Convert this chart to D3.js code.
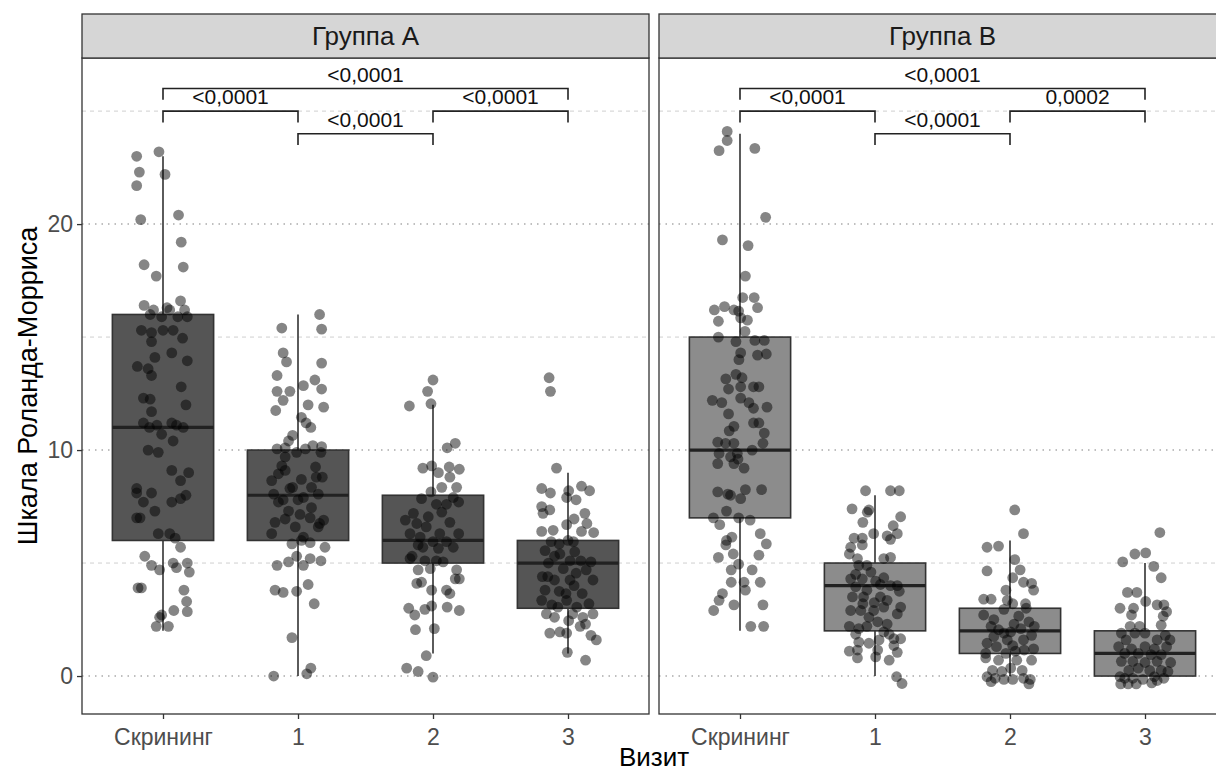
<!DOCTYPE html>
<html>
<head>
<meta charset="utf-8">
<script src="https://cdn.jsdelivr.net/npm/d3@7"></script>
<style>
body { margin: 0; background: #fff; }
svg { display: block; font-family: "Liberation Sans", Arial, sans-serif; }
</style>
</head>
<body>
<svg id="chart" width="1216" height="774"></svg>
<script>
// categories and labels
var visits = ["Скрининг", "1", "2", "3"];
var groups = ["Группа A", "Группа B"];
var yTicks = [0, 10, 20];
var yMinor = [5, 15, 25];

// box stats per visit: [lower whisker, q1, median, q3, upper whisker]
var statsA = [[2, 6, 11, 16, 23], [0, 6, 8, 10, 16], [1, 5, 6, 8, 12], [1, 3, 5, 6, 9]];
var statsB = [[2, 7, 10, 15, 24], [0, 2, 4, 5, 8], [0, 1, 2, 3, 6], [0, 0, 1, 2, 5]];

// comparisons: [from, to, bracket level, p label]
var bracketsA = [["Скрининг", "3", 26, "<0,0001"], ["Скрининг", "1", 25, "<0,0001"], ["2", "3", 25, "<0,0001"], ["1", "2", 24, "<0,0001"]];
var bracketsB = [["Скрининг", "3", 26, "<0,0001"], ["Скрининг", "1", 25, "<0,0001"], ["2", "3", 25, "0,0002"], ["1", "2", 24, "<0,0001"]];

// jittered points: [horizontal jitter (share of step), score]
var ptsAScr = [[-0.195,23.0],[-0.03,23.2],[-0.175,22.3],[0.015,22.2],[-0.195,21.7],[-0.165,20.2],[0.115,20.4],[0.135,19.2],[-0.14,18.2],[0.15,18.1],[-0.05,17.7],[0.13,16.6],[-0.14,16.4],[-0.07,16.2],[0.03,16.3],[0.05,16.2],[0.16,16.2],[-0.095,16.0],[-0.01,15.9],[0.11,15.9],[0.18,15.9],[-0.16,15.3],[-0.085,15.2],[0.0,15.3],[0.075,15.3],[0.145,14.95],[-0.085,14.8],[0.065,14.3],[0.18,13.95],[-0.06,14.1],[-0.19,13.7],[-0.11,13.6],[-0.085,13.3],[0.135,12.8],[-0.145,12.3],[-0.095,12.25],[0.17,12.0],[-0.085,11.7],[-0.145,11.2],[-0.045,11.1],[0.065,11.2],[0.1,11.1],[0.15,11.0],[-0.1,11.0],[-0.01,10.7],[0.075,10.4],[-0.11,10.0],[-0.035,9.9],[0.065,9.1],[0.13,8.65],[0.19,9.0],[-0.085,8.1],[-0.195,8.3],[-0.195,8.1],[-0.145,7.7],[-0.06,7.3],[-0.195,7.0],[-0.17,7.0],[0.065,7.7],[0.13,7.85],[0.17,8.0],[-0.035,6.3],[0.05,6.3],[0.09,6.1],[0.13,5.7],[-0.135,5.3],[-0.085,4.9],[-0.025,4.7],[0.075,5.0],[0.1,4.8],[0.18,5.0],[0.195,4.6],[-0.185,3.9],[-0.16,3.9],[0.155,3.8],[0.175,3.3],[0.18,2.85],[0.08,2.9],[-0.025,2.6],[-0.01,2.7],[-0.05,2.2],[0.04,2.2]];
var ptsA1 = [[0.16,16.0],[-0.12,15.4],[0.175,15.35],[-0.11,14.3],[-0.085,13.9],[0.175,13.85],[-0.155,13.3],[-0.155,12.6],[-0.06,12.6],[0.04,12.85],[0.125,13.1],[0.175,12.7],[-0.11,12.2],[-0.165,11.75],[0.075,12.0],[0.19,11.9],[0.025,11.45],[0.06,11.2],[0.095,11.0],[-0.04,10.65],[-0.07,10.4],[-0.155,10.05],[-0.095,10.1],[-0.01,9.9],[0.11,10.2],[0.175,10.15],[0.17,9.9],[0.055,10.05],[-0.12,9.3],[-0.095,9.1],[-0.195,8.65],[0.025,8.7],[0.135,8.8],[0.18,8.8],[-0.06,8.3],[-0.18,8.05],[0.0,7.8],[0.15,8.05],[0.1,8.35],[-0.145,7.7],[-0.07,7.3],[0.015,7.15],[0.09,7.0],[0.19,6.9],[-0.095,6.95],[-0.17,6.8],[0.15,6.6],[-0.195,6.3],[0.04,6.15],[-0.045,5.85],[0.09,5.9],[0.2,5.7],[-0.155,4.9],[-0.07,5.05],[-0.01,5.3],[0.04,4.9],[0.09,5.2],[0.17,5.1],[-0.17,3.8],[-0.11,3.7],[-0.01,3.75],[0.075,4.05],[0.12,3.2],[-0.045,1.7],[-0.18,0.0],[0.065,0.1],[0.095,0.35],[-0.095,9.7],[-0.145,8.95],[0.13,9.25],[-0.04,8.35],[0.04,7.9],[-0.11,7.8],[0.1,7.45],[-0.02,6.6],[0.16,6.75],[0.025,6.0]];
var ptsA2 = [[0.0,13.1],[-0.04,12.6],[-0.175,11.95],[-0.015,12.05],[0.105,10.1],[0.165,10.3],[-0.075,9.2],[-0.01,9.3],[0.04,9.0],[0.12,9.25],[0.195,9.15],[0.125,8.8],[0.065,8.35],[0.175,8.35],[-0.015,8.15],[-0.085,7.85],[0.15,7.9],[0.025,7.6],[0.19,7.7],[0.065,7.25],[-0.205,6.9],[-0.12,6.75],[-0.05,6.6],[0.125,6.8],[-0.17,6.3],[-0.095,6.15],[0.05,6.3],[0.19,6.3],[0.0,5.95],[0.1,5.95],[-0.11,5.8],[0.04,5.65],[-0.17,5.2],[-0.06,5.1],[0.075,5.05],[-0.11,4.7],[-0.02,4.75],[0.175,4.7],[0.165,4.3],[0.195,4.3],[-0.12,4.1],[-0.085,4.15],[-0.01,3.8],[0.1,3.8],[0.125,3.65],[-0.18,3.0],[-0.135,2.7],[-0.06,2.95],[-0.01,3.1],[0.105,3.05],[0.195,2.9],[-0.13,2.05],[0.01,2.1],[-0.05,0.9],[-0.195,0.35],[-0.11,0.2],[0.0,-0.05],[-0.145,7.2],[-0.035,7.05],[0.1,7.6],[-0.075,5.7],[0.15,5.7],[-0.155,5.3],[0.025,5.1]];
var ptsA3 = [[-0.14,13.2],[-0.13,12.6],[-0.085,9.2],[-0.195,8.3],[-0.13,8.1],[0.005,8.2],[0.1,8.4],[0.16,8.2],[-0.195,7.5],[-0.135,7.35],[-0.01,7.9],[0.06,7.8],[-0.185,7.2],[0.125,7.2],[0.045,6.95],[0.14,6.75],[-0.01,6.7],[-0.195,6.4],[0.1,6.4],[0.19,6.35],[-0.125,5.95],[-0.065,5.85],[0.04,5.95],[-0.17,5.55],[-0.1,5.3],[0.015,5.1],[0.095,5.1],[0.17,5.05],[-0.145,5.0],[-0.035,4.75],[0.135,4.7],[-0.19,4.4],[-0.1,4.25],[0.015,4.25],[0.185,4.25],[-0.17,3.8],[-0.065,3.75],[0.045,4.0],[0.105,3.65],[-0.195,3.35],[-0.12,3.15],[-0.01,3.35],[0.155,3.2],[-0.16,2.75],[-0.1,2.6],[0.035,2.75],[0.11,2.6],[0.185,2.75],[-0.135,1.9],[-0.06,1.95],[-0.01,1.9],[0.09,2.2],[0.17,1.8],[0.21,1.6],[-0.005,1.05],[0.13,0.7],[-0.11,6.45],[0.0,6.0],[0.05,5.5],[-0.06,5.4],[-0.15,4.4],[0.06,4.55],[-0.015,3.65],[-0.075,3.05],[0.065,3.05],[0.005,2.45],[0.13,2.3]];
var ptsBScr = [[-0.095,24.1],[-0.095,23.7],[-0.155,23.25],[0.11,23.35],[0.19,20.3],[-0.13,19.3],[0.06,19.05],[0.04,17.7],[0.02,16.75],[0.105,16.75],[-0.115,16.35],[0.13,16.3],[-0.19,16.2],[-0.045,16.2],[-0.01,16.15],[-0.16,15.7],[0.055,15.75],[0.005,15.85],[0.037,15.25],[-0.16,15.0],[-0.03,14.8],[0.11,14.85],[0.18,14.85],[0.005,14.3],[-0.008,14.0],[0.13,14.2],[0.195,14.25],[-0.03,13.35],[-0.105,13.15],[0.015,13.2],[0.14,12.8],[-0.085,12.7],[0.005,12.8],[0.1,12.8],[-0.205,12.2],[-0.135,12.1],[0.005,12.3],[0.066,12.1],[0.2,11.9],[0.1,11.85],[-0.085,11.6],[0.1,11.2],[0.14,11.2],[-0.045,11.05],[-0.08,10.85],[0.18,10.75],[0.17,10.3],[-0.165,10.35],[-0.107,10.3],[-0.045,10.3],[-0.155,9.85],[-0.07,9.7],[-0.015,9.6],[0.09,10.0],[-0.165,9.4],[-0.045,9.4],[0.03,9.2],[-0.02,9.85],[-0.165,8.15],[-0.09,8.05],[-0.07,8.0],[0.04,8.25],[0.16,8.25],[0.005,7.85],[-0.1,7.3],[-0.197,7.0],[-0.01,7.0],[0.075,6.9],[-0.15,6.7],[-0.06,6.15],[-0.1,6.0],[0.15,6.3],[0.195,5.85],[-0.105,5.8],[-0.05,5.4],[-0.16,5.25],[0.14,5.35],[-0.01,4.95],[-0.065,4.7],[0.09,4.7],[-0.065,4.15],[0.15,4.15],[0.03,4.15],[0.04,3.8],[-0.13,3.65],[-0.155,3.35],[-0.045,3.15],[-0.195,2.9],[0.17,3.15],[0.08,2.2],[0.175,2.2]];
var ptsB1 = [[-0.07,8.2],[0.115,8.2],[0.18,8.2],[-0.17,7.4],[-0.057,7.25],[-0.045,7.35],[0.19,7.05],[-0.09,6.8],[0.135,6.65],[0.165,6.3],[-0.155,6.1],[-0.094,6.1],[-0.01,6.3],[0.09,6.2],[0.115,6.05],[-0.18,5.7],[-0.094,5.8],[-0.19,5.4],[-0.13,5.2],[0.065,5.2],[0.115,5.25],[-0.12,4.9],[-0.06,4.9],[-0.18,4.3],[-0.094,4.3],[0.005,4.2],[0.065,4.35],[0.165,4.0],[-0.143,3.95],[-0.06,3.8],[0.115,4.0],[-0.167,3.5],[-0.085,3.5],[0.04,3.5],[0.18,3.75],[-0.005,3.25],[-0.18,2.9],[-0.105,2.9],[0.065,3.05],[0.19,3.05],[0.165,2.75],[-0.045,2.6],[0.02,2.4],[-0.19,2.2],[-0.12,2.1],[0.09,2.3],[-0.143,1.85],[0.105,1.85],[-0.12,1.5],[-0.045,1.45],[0.03,1.6],[0.14,1.65],[0.19,1.65],[0.14,1.35],[-0.19,1.1],[-0.13,1.15],[0.02,1.15],[0.165,1.05],[-0.13,0.8],[0.005,0.85],[0.105,0.7],[0.16,-0.03],[0.2,-0.33],[-0.143,4.5],[-0.03,4.6],[0.04,4.05],[-0.09,3.2],[0.09,3.35],[-0.01,2.9],[-0.06,2.2],[0.065,1.95]];
var ptsB2 = [[0.035,7.35],[0.1,6.3],[-0.17,5.7],[-0.085,5.75],[0.035,5.15],[-0.17,4.65],[0.075,4.7],[0.02,4.35],[0.1,4.15],[0.16,4.1],[-0.03,3.8],[0.175,3.8],[-0.195,3.4],[-0.14,3.4],[-0.02,3.35],[0.02,3.2],[0.115,3.2],[0.12,3.0],[-0.045,2.95],[-0.195,2.7],[0.065,2.65],[0.14,2.4],[-0.14,2.2],[-0.085,2.05],[0.005,1.95],[0.08,2.1],[0.18,2.2],[-0.045,1.9],[0.16,1.8],[-0.17,1.45],[-0.1,1.3],[0.02,1.35],[0.105,1.15],[0.175,1.2],[-0.18,1.0],[-0.03,1.0],[0.04,1.1],[-0.18,0.8],[-0.085,0.7],[0.05,0.7],[0.16,0.7],[-0.13,0.25],[-0.06,0.2],[0.005,0.35],[0.09,0.25],[-0.17,-0.03],[-0.11,-0.1],[-0.045,-0.15],[0.02,-0.15],[0.1,-0.1],[0.15,-0.15],[-0.14,-0.25],[0.14,-0.35],[-0.12,2.5],[0.03,2.3],[-0.02,1.6],[0.1,1.6],[-0.12,1.75]];
var ptsB3 = [[0.11,6.35],[-0.075,5.4],[0.005,5.45],[-0.165,5.05],[0.065,4.85],[0.12,4.35],[-0.13,3.7],[-0.06,3.7],[0.005,3.3],[0.09,3.15],[-0.185,3.0],[-0.085,3.0],[0.14,3.15],[0.16,2.85],[-0.1,2.7],[0.135,2.65],[-0.11,2.2],[-0.04,2.2],[0.12,2.25],[-0.175,1.9],[-0.075,1.9],[0.0,1.9],[0.15,1.8],[-0.14,1.6],[0.09,1.6],[0.185,1.6],[-0.195,1.3],[-0.1,1.2],[0.0,1.3],[0.07,1.2],[0.16,1.3],[-0.15,1.0],[-0.05,1.0],[0.045,0.95],[0.12,0.95],[-0.175,0.65],[-0.09,0.65],[0.0,0.6],[0.09,0.65],[0.19,0.6],[-0.12,0.25],[-0.05,0.35],[0.035,0.25],[0.12,0.25],[0.17,0.2],[-0.185,-0.03],[-0.15,-0.1],[-0.09,-0.1],[-0.015,-0.15],[0.07,-0.03],[0.14,-0.1],[-0.18,-0.35],[-0.125,-0.35],[-0.065,-0.35],[0.05,-0.3],[0.09,-0.2]];

var svg = d3.select("#chart");
var panelW = 567, panelTop = 58, panelBottom = 714, stripTop = 14;
var panelLeft = [82, 659];

var y = d3.scaleLinear().domain([-1.68, 27.35]).range([panelBottom, panelTop]);

function drawPanel(ox, title, stats, pts, brackets, fill) {
	var x = d3.scalePoint().domain(visits).range([ox, ox + panelW]).padding(0.6);
	var step = x.step();
	var g = svg.append("g");

	// grid
	g.selectAll(".minor").data(yMinor).enter().append("line")
		.attr("x1", ox).attr("x2", ox + panelW)
		.attr("y1", d => y(d)).attr("y2", d => y(d))
		.attr("stroke", "#cfcfcf").attr("stroke-width", 1).attr("stroke-dasharray", "4,4");
	g.selectAll(".major").data(yTicks).enter().append("line")
		.attr("x1", ox).attr("x2", ox + panelW)
		.attr("y1", d => y(d)).attr("y2", d => y(d))
		.attr("stroke", "#aaaaaa").attr("stroke-width", 1.5).attr("stroke-dasharray", "1.5,5");

	// boxes
	var bw = step * 0.75;
	var box = g.selectAll(".box").data(stats).enter().append("g");
	box.append("line")
		.attr("x1", (d, i) => x(visits[i])).attr("x2", (d, i) => x(visits[i]))
		.attr("y1", d => y(d[0])).attr("y2", d => y(d[4]))
		.attr("stroke", "#333").attr("stroke-width", 1.6);
	box.append("rect")
		.attr("x", (d, i) => x(visits[i]) - bw / 2).attr("width", bw)
		.attr("y", d => y(d[3])).attr("height", d => y(d[1]) - y(d[3]))
		.attr("fill", fill).attr("stroke", "#333").attr("stroke-width", 1.6);
	box.append("line")
		.attr("x1", (d, i) => x(visits[i]) - bw / 2).attr("x2", (d, i) => x(visits[i]) + bw / 2)
		.attr("y1", d => y(d[2])).attr("y2", d => y(d[2]))
		.attr("stroke", "#222").attr("stroke-width", 3.2);

	// points
	pts.forEach(function(list, i) {
		g.append("g").selectAll("circle").data(list).enter().append("circle")
			.attr("cx", d => x(visits[i]) + d[0] * step)
			.attr("cy", d => y(d[1]))
			.attr("r", 5.4)
			.attr("fill", "#000").attr("opacity", 0.48);
	});

	// brackets
	var tip = 0.5;
	brackets.forEach(function(b) {
		var x1 = x(b[0]), x2 = x(b[1]), yl = y(b[2]);
		g.append("path")
			.attr("d", "M" + x1 + "," + y(b[2] - tip) + "V" + yl + "H" + x2 + "V" + y(b[2] - tip))
			.attr("fill", "none").attr("stroke", "#222").attr("stroke-width", 1.6);
		g.append("text")
			.attr("x", (x1 + x2) / 2).attr("y", yl - 7)
			.attr("text-anchor", "middle").attr("font-size", 21).attr("fill", "#111")
			.text(b[3]);
	});

	// panel border
	g.append("rect").attr("x", ox).attr("y", panelTop).attr("width", panelW).attr("height", panelBottom - panelTop)
		.attr("fill", "none").attr("stroke", "#333").attr("stroke-width", 1.3);

	// strip
	g.append("rect").attr("x", ox).attr("y", stripTop).attr("width", panelW).attr("height", panelTop - stripTop)
		.attr("fill", "#d6d6d6").attr("stroke", "#333").attr("stroke-width", 1.3);
	g.append("text").attr("x", ox + panelW / 2).attr("y", (stripTop + panelTop) / 2).attr("dy", "0.35em")
		.attr("text-anchor", "middle").attr("font-size", 26).attr("fill", "#1a1a1a")
		.text(title);

	// x axis
	var ax = g.append("g").attr("transform", "translate(0," + panelBottom + ")")
		.call(d3.axisBottom(x).tickSize(5).tickPadding(10));
	ax.select(".domain").remove();
	ax.selectAll("line").attr("stroke", "#333").attr("stroke-width", 1.3);
	ax.selectAll("text").attr("font-size", 23).attr("fill", "#4d4d4d").attr("font-family", null);
}

drawPanel(panelLeft[0], groups[0], statsA, [ptsAScr, ptsA1, ptsA2, ptsA3], bracketsA, "#555555");
drawPanel(panelLeft[1], groups[1], statsB, [ptsBScr, ptsB1, ptsB2, ptsB3], bracketsB, "#8c8c8c");

// y axis
var ay = svg.append("g").attr("transform", "translate(" + panelLeft[0] + ",0)")
	.call(d3.axisLeft(y).tickValues(yTicks).tickSize(5).tickPadding(4));
ay.select(".domain").remove();
ay.selectAll("line").attr("stroke", "#333").attr("stroke-width", 1.3);
ay.selectAll("text").attr("font-size", 23).attr("fill", "#4d4d4d").attr("font-family", null);

svg.append("text")
	.attr("transform", "translate(28," + (panelTop + panelBottom) / 2 + ") rotate(-90)")
	.attr("text-anchor", "middle").attr("dy", "0.35em").attr("font-size", 27).attr("fill", "#000")
	.text("Шкала Роланда-Морриса");

svg.append("text")
	.attr("x", (panelLeft[0] + panelLeft[1] + panelW) / 2).attr("y", 766)
	.attr("text-anchor", "middle").attr("font-size", 26).attr("fill", "#000")
	.text("Визит");
</script>
</body>
</html>
